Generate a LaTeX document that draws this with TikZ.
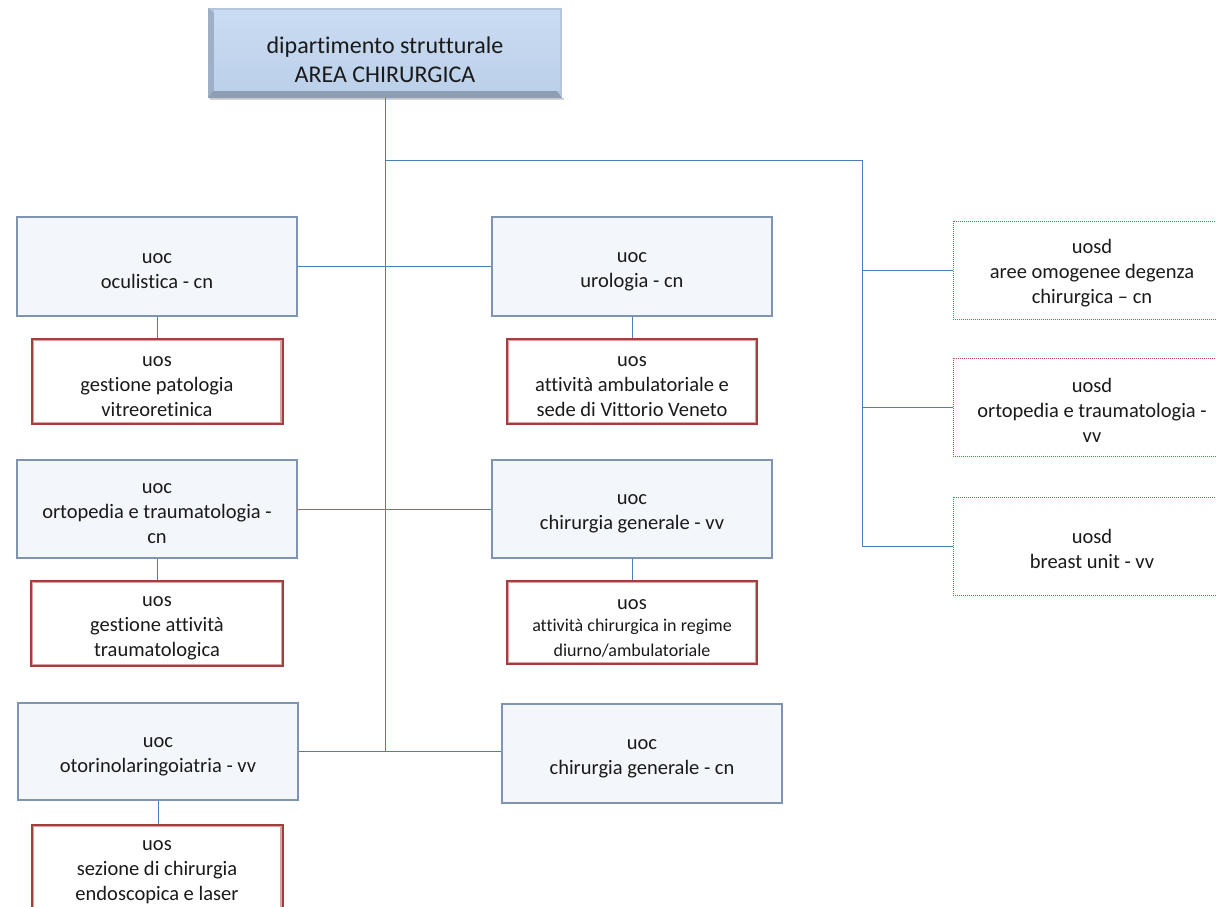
\documentclass[tikz,border=0pt]{standalone}
\usepackage{fontspec}
\setmainfont{Carlito}[Ligatures=NoCommon]
\definecolor{linkblue}{HTML}{4A7EBB}
\definecolor{uocfill}{HTML}{F3F6FB}
\definecolor{uocdraw}{HTML}{7F94B0}
\definecolor{uosred}{HTML}{A23F3C}
\definecolor{uospink}{HTML}{D9A3A1}
\definecolor{uosdred}{HTML}{C0504D}
\definecolor{topouter}{HTML}{B3C6DD}
\definecolor{topleft}{HTML}{9DB0C8}
\definecolor{topbottom}{HTML}{8C9DB4}
\definecolor{topfaceA}{HTML}{CADCF2}
\definecolor{topfaceB}{HTML}{BCD0EA}
\definecolor{inktext}{HTML}{1A1A1A}
% smaller text size used in one unit
\newcommand{\smalltxt}{\fontsize{18}{21}\selectfont}
% first-line strut: sets text the way a word processor does (line box, not ink)
\newcommand{\fls}[1][20pt]{\rule{0pt}{#1}}
\begin{document}
\begin{tikzpicture}[x=1pt,y=-1pt,
  every node/.style={font=\fontsize{20.5}{25}\selectfont, align=center, text=inktext, inner sep=0pt},
  uocbox/.style={draw=uocdraw, line width=1.2pt, fill=uocfill, minimum width=280pt, minimum height=99pt},
  uosbox/.style={draw=uosred, line width=2pt, fill=white, minimum width=251pt, minimum height=85pt,
    path picture={
      \draw[uospink, line width=1.1pt]
      ([xshift=1.5pt,yshift=-1.5pt]path picture bounding box.north west) rectangle
      ([xshift=-1.5pt,yshift=1.5pt]path picture bounding box.south east);}},
  uosdbox/.style={draw=uosdred, line width=0.8pt, dash pattern=on 1pt off 1pt, fill=white, minimum width=278pt, minimum height=98pt},
  toptext/.style={font=\fontsize{24}{29}\selectfont, minimum width=354pt, minimum height=90pt},
  link/.style={draw=linkblue, line width=1pt}]
\useasboundingbox (0,0) rectangle (1216,906);

% bevelled header box
\fill[black!18] (210,98) rectangle (564,100);
\fill[topouter] (208,8) rectangle (562,98);
\fill[topleft] (208,8) -- (214,13) -- (214,90) -- (208,98) -- cycle;
\fill[topbottom] (208,98) -- (214,90) -- (556,90) -- (562,98) -- cycle;
\shade[top color=topfaceA, bottom color=topfaceB] (214,10) rectangle (560,90);
\node[toptext] (top) at (385,53) {\fls[31pt]dipartimento strutturale\\AREA CHIRURGICA};

% uoc units
\node[uocbox] (ocul) at (157,266.5) {\fls uoc\\oculistica - cn};
\node[uocbox] (urol) at (632,266.5) {\fls uoc\\urologia - cn};
\node[uocbox, minimum height=98pt] (orto) at (157,509) {\fls uoc\\ortopedia e traumatologia -\\cn};
\node[uocbox, minimum height=98pt] (chgv) at (632,509) {\fls uoc\\chirurgia generale - vv};
\node[uocbox, minimum height=97pt] (otor) at (158,751.5) {\fls uoc\\otorinolaringoiatria - vv};
\node[uocbox] (chgc) at (642,753.5) {\fls uoc\\chirurgia generale - cn};

% uos units
\node[uosbox] (uos1) at (157,381.5) {\fls uos\\gestione patologia\\vitreoretinica};
\node[uosbox, minimum width=250pt] (uos2) at (632,381.5) {\fls uos\\attività ambulatoriale e\\sede di Vittorio Veneto};
\node[uosbox, minimum width=252pt] (uos3) at (157,623.5) {\fls uos\\gestione attività\\traumatologica};
\node[uosbox, minimum width=250pt, minimum height=83pt] (uos4) at (632,622.5) {\fls[22pt]uos\\[-3pt]\smalltxt attività chirurgica in regime\\\smalltxt diurno/ambulatoriale};
\node[uosbox] (uos5) at (157,867.5) {\fls uos\\sezione di chirurgia\\endoscopica e laser};

% uosd units
\node[uosdbox] (ud1) at (1092,270) {\fls uosd\\aree omogenee degenza\\chirurgica – cn};
\node[uosdbox] (ud2) at (1092,407) {\fls uosd\\ortopedia e traumatologia -\\vv};
\node[uosdbox] (ud3) at (1092,546) {\fls uosd\\breast unit - vv};

% connectors
\coordinate (tbot) at (385,751);
\coordinate (j1) at (385,160);
\coordinate (j2) at (862,160);
\draw[link] (top.south) -- (tbot);
\draw[link] (ocul.east) -- (urol.west);
\draw[link] (orto.east) -- (chgv.west);
\draw[link] (otor.east) -- (otor.east -| chgc.west);
\draw[link] (ocul.south) -- (uos1.north);
\draw[link] (urol.south) -- (uos2.north);
\draw[link] (orto.south) -- (uos3.north);
\draw[link] (chgv.south) -- (uos4.north);
\draw[link] (otor.south) -- (otor.south |- uos5.north);
\draw[link] (j1) -- (j2) -- (j2 |- ud3.west);
\draw[link] (j2 |- ud1.west) -- (ud1.west);
\draw[link] (j2 |- ud2.west) -- (ud2.west);
\draw[link] (j2 |- ud3.west) -- (ud3.west);
\end{tikzpicture}
\end{document}
